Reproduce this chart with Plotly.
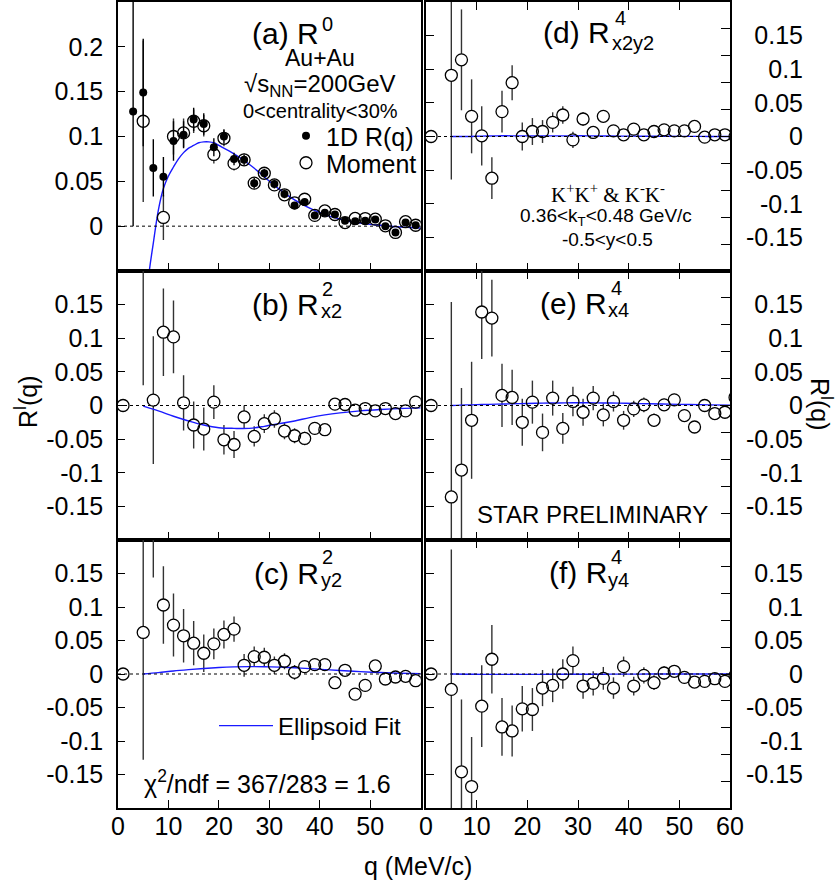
import plotly.graph_objects as go

W, H = 838, 884

# ---------------------------------------------------------------- data
q = [1, 3, 5, 7, 9, 11, 13, 15, 17, 19, 21, 23, 25, 27, 29,
     31, 33, 35, 37, 39, 41, 43, 45, 47, 49, 51, 53, 55, 57, 59]
q_r = q + [61]

# (a) R^0 : moment method (open) and 1D R(q) (filled)
a_mom = [None, None, 0.117, None, 0.0097, 0.100, 0.104, 0.117, 0.112, 0.080,
         0.098, 0.070, 0.074, 0.048, 0.059, 0.046, 0.035, 0.026, 0.030, 0.012,
         0.017, 0.013, 0.004, 0.0086, 0.0085, 0.0078, 0.0004, -0.007, 0.005, 0.001]
a_mom_err = [0, 0, 0.090, 0, 0.025, 0.020, 0.016, 0.013, 0.012, 0.010,
             0.009, 0.008, 0.007, 0.006, 0.006, 0.005, 0.005, 0.005, 0.004, 0.004,
             0.004, 0.004, 0.003, 0.003, 0.003, 0.003, 0.003, 0.003, 0.003, 0.003]
a_1d = [None, 0.128, 0.149, 0.065, 0.055, 0.095, 0.102, 0.119, 0.114, 0.088,
        0.100, 0.075, 0.074, 0.048, 0.059, 0.047, 0.036, 0.023, 0.027, 0.012,
        0.015, 0.013, 0.006, 0.0056, 0.006, 0.0074, 0.0, -0.007, 0.004, 0.001]
a_1d_err = [0, 0.128, 0.060, 0.032, 0.022, 0.022, 0.015, 0.013, 0.012, 0.010,
            0.008, 0.007, 0.006, 0.006, 0.005, 0.005, 0.005, 0.004, 0.004, 0.004,
            0.004, 0.003, 0.003, 0.003, 0.003, 0.003, 0.003, 0.003, 0.003, 0.003]

# (b) R^2_x2
b_val = [0.0, None, 0.26, 0.008, 0.109, 0.102, 0.004, -0.029, -0.035, 0.005,
         -0.051, -0.058, -0.017, -0.046, -0.027, -0.020, -0.038, -0.045, -0.049, -0.034,
         -0.036, 0.002, 0.0015, -0.007, -0.0045, -0.008, -0.0045, -0.012, -0.008, 0.005]
b_err = [0, 0, 0.23, 0.095, 0.065, 0.054, 0.041, 0.035, 0.032, 0.025,
         0.022, 0.020, 0.017, 0.015, 0.014, 0.013, 0.012, 0.011, 0.010, 0.009,
         0.008, 0.008, 0.007, 0.007, 0.006, 0.006, 0.006, 0.005, 0.005, 0.005]

# (c) R^2_y2
c_val = [0.0, None, 0.062, 0.26, 0.103, 0.073, 0.057, 0.046, 0.031, 0.045,
         0.059, 0.067, 0.013, 0.026, 0.025, 0.013, 0.019, 0.0025, 0.011, 0.014,
         0.014, -0.013, 0.0055, -0.030, -0.017, 0.012, -0.0075, -0.0045, -0.0035, -0.010]
c_err = [0, 0, 0.190, 0.116, 0.058, 0.047, 0.040, 0.033, 0.028, 0.023,
         0.021, 0.019, 0.017, 0.015, 0.014, 0.013, 0.012, 0.011, 0.010, 0.009,
         0.008, 0.008, 0.007, 0.007, 0.006, 0.006, 0.006, 0.005, 0.005, 0.005]

# (d) R^4_x2y2
d_val = [0.0, None, 0.091, 0.114, 0.030, 0.001, -0.062, 0.037, 0.080, 0.0,
         0.0074, 0.0074, 0.021, 0.032, -0.005, 0.026, 0.006, 0.030, 0.0084, 0.0025,
         0.011, 0.0025, 0.0074, 0.0099, 0.0084, 0.0084, 0.015, -0.001, 0.0025, 0.0025, 0.0]
d_err = [0, 0, 0.155, 0.075, 0.055, 0.044, 0.031, 0.031, 0.026, 0.021,
         0.020, 0.017, 0.015, 0.013, 0.012, 0.010, 0.009, 0.009, 0.008, 0.007,
         0.007, 0.006, 0.006, 0.005, 0.005, 0.005, 0.005, 0.004, 0.004, 0.004, 0.004]

# (e) R^4_x4
e_val = [0.0, None, -0.136, -0.096, -0.022, 0.139, 0.130, 0.015, 0.012, -0.025,
         0.005, -0.040, 0.011, -0.034, 0.006, -0.010, 0.011, -0.014, 0.006, -0.022,
         -0.005, 0.001, -0.022, 0.001, 0.0084, -0.015, -0.032, 0.0, -0.012, -0.010, 0.012]
e_err = [0, 0, 0.290, 0.122, 0.087, 0.070, 0.057, 0.047, 0.041, 0.035,
         0.032, 0.028, 0.026, 0.023, 0.022, 0.020, 0.018, 0.017, 0.015, 0.014,
         0.012, 0.011, 0.010, 0.009, 0.009, 0.008, 0.008, 0.007, 0.007, 0.007, 0.007]

# (f) R^4_y4
f_val = [0.0, None, -0.023, -0.146, -0.168, -0.048, 0.022, -0.079, -0.085, -0.052,
         -0.053, -0.021, -0.017, 0.0, 0.020, -0.018, -0.014, -0.0065, -0.021, 0.011,
         -0.018, -0.002, -0.013, 0.0015, 0.004, -0.005, -0.012, -0.011, -0.007, -0.011, -0.0025]
f_err = [0, 0, 0.209, 0.108, 0.074, 0.061, 0.051, 0.043, 0.038, 0.034,
         0.032, 0.027, 0.025, 0.022, 0.021, 0.019, 0.018, 0.017, 0.016, 0.015,
         0.014, 0.012, 0.011, 0.010, 0.009, 0.009, 0.008, 0.008, 0.008, 0.008, 0.008]

# ellipsoid fit curves
qa_fit = [5, 6, 7, 8, 9, 10, 11, 12, 13, 14, 15, 16, 17, 18, 19, 20, 22, 24, 26, 28,
          30, 32, 34, 36, 38, 40, 42, 44, 46, 48, 50, 52, 54, 56, 58, 60]
a_fit = [-0.15, -0.06, -0.019, 0.018, 0.042, 0.056, 0.066, 0.075, 0.082, 0.087,
         0.090, 0.093, 0.094, 0.094, 0.093, 0.090, 0.084, 0.077, 0.069, 0.060,
         0.050, 0.041, 0.033, 0.026, 0.020, 0.015, 0.011, 0.008, 0.005, 0.0035,
         0.002, 0.001, 0.0, -0.001, -0.0015, -0.002]
q_fit = [5, 8, 11, 14, 17, 20, 23, 26, 29, 32, 35, 38, 41, 44, 48, 52, 56, 60]
b_fit = [-0.001, -0.008, -0.016, -0.023, -0.029, -0.033, -0.034, -0.034, -0.031, -0.027,
         -0.023, -0.018, -0.014, -0.011, -0.008, -0.006, -0.0045, -0.0035]
c_fit = [0.0, 0.002, 0.0045, 0.0065, 0.0083, 0.0097, 0.0106, 0.011, 0.0108, 0.0102,
         0.0093, 0.008, 0.0066, 0.0052, 0.0035, 0.0022, 0.0012, 0.0005]
d_fit = [0.0, 0.0, 0.0005, 0.001, 0.001, 0.001, 0.001, 0.001, 0.001, 0.001,
         0.0008, 0.0006, 0.0005, 0.0004, 0.0003, 0.0002, 0.0001, 0.0]
e_fit = [0.0, 0.001, 0.0015, 0.002, 0.0025, 0.003, 0.0035, 0.0038, 0.004, 0.004,
         0.0038, 0.0035, 0.003, 0.0025, 0.002, 0.0015, 0.001, 0.0005]
f_fit = [0.0, -0.0003, -0.0005, -0.0005, -0.0005, -0.0005, -0.0005, -0.0004, -0.0004, -0.0003,
         -0.0003, -0.0002, -0.0002, -0.0001, -0.0001, 0.0, 0.0, 0.0]

x_ticks_left = [0, 10, 20, 30, 40, 50]
x_ticks_right = [0, 10, 20, 30, 40, 50, 60]
y_ticks_a = [0, 0.05, 0.1, 0.15, 0.2]
y_ticks = [-0.15, -0.1, -0.05, 0, 0.05, 0.1, 0.15]
y_ticks_outer = [-0.2, -0.15, -0.1, -0.05, 0, 0.05, 0.1, 0.15, 0.2]
y_text_a = ["0", "0.05", "0.1", "0.15", "0.2"]
y_text = ["-0.15", "-0.1", "-0.05", "0", "0.05", "0.1", "0.15"]

# ---------------------------------------------------------------- layout helpers
FONT = "Liberation Sans, Arial, sans-serif"
SERIF = "Liberation Serif, Times New Roman, serif"
BLUE = "#1a1aff"
ERRC = "#333333"
MS_OPEN = 12
MS_FILL = 8


def fx(p):
    return p / W


def fy(p):
    return 1 - p / H


LEFT = [fx(118), fx(420.7)]
RIGHT = [fx(426), fx(730)]
ROWS = [[fy(271), fy(2)], [fy(540), fy(271)], [fy(808), fy(540)]]

fig = go.Figure()


def moment_traces(xs, ys, errs, xa, ya, fit_q=None, fit_v=None, legend_name=None,
                  fit_legend=False):
    # error bars, white disks, fit, then hollow outlines on top
    fig.add_trace(go.Scatter(
        x=xs, y=ys, xaxis=xa, yaxis=ya, mode="markers",
        marker=dict(size=1, color="rgba(0,0,0,0)"),
        error_y=dict(type="data", array=errs, visible=True, color=ERRC,
                     thickness=1.4, width=0),
        showlegend=False, hoverinfo="skip"))
    fig.add_trace(go.Scatter(
        x=xs, y=ys, xaxis=xa, yaxis=ya, mode="markers",
        marker=dict(size=MS_OPEN, color="white", line=dict(width=0)),
        showlegend=False, hoverinfo="skip"))
    if fit_q is not None:
        fig.add_trace(go.Scatter(
            x=fit_q, y=fit_v, xaxis=xa, yaxis=ya, mode="lines",
            line=dict(color=BLUE, width=1.4, shape="spline"),
            name="Ellipsoid Fit", showlegend=fit_legend, legend="legend2"))
    fig.add_trace(go.Scatter(
        x=xs, y=ys, xaxis=xa, yaxis=ya, mode="markers",
        marker=dict(size=MS_OPEN, symbol="circle-open", color="black",
                    line=dict(width=1.3, color="black")),
        name=legend_name or "Moment", showlegend=legend_name is not None,
        legend="legend3"))


# panel (a)
moment_traces(q, a_mom, a_mom_err, "x", "y", qa_fit, a_fit, legend_name="Moment")
fig.add_trace(go.Scatter(
    x=q, y=a_1d, xaxis="x", yaxis="y", mode="markers",
    marker=dict(size=MS_FILL, color="black"),
    error_y=dict(type="data", array=a_1d_err, visible=True, color="black",
                 thickness=1.4, width=0),
    name="1D R(q)", legend="legend"))

# panels (b), (c)
moment_traces(q, b_val, b_err, "x2", "y2", q_fit, b_fit)
moment_traces(q, c_val, c_err, "x3", "y3", q_fit, c_fit, fit_legend=True)
# panels (d), (e), (f)
moment_traces(q_r, d_val, d_err, "x4", "y4", q_fit, d_fit)
moment_traces(q_r, e_val, e_err, "x5", "y5", q_fit, e_fit)
moment_traces(q_r, f_val, f_err, "x6", "y6", q_fit, f_fit)

# empty traces so that the extra right-hand axes are instantiated
for xa, ya in [("x4", "y7"), ("x5", "y8"), ("x6", "y9"),
               ("x4", "y10"), ("x5", "y11"), ("x6", "y12")]:
    fig.add_trace(go.Scatter(x=[], y=[], xaxis=xa, yaxis=ya,
                             showlegend=False, hoverinfo="skip"))

axis_common = dict(showgrid=False, zeroline=False, showline=True, linecolor="black",
                   linewidth=1.5, ticks="inside", tickcolor="black", tickwidth=1.3)
tickfont = dict(family=FONT, size=25, color="black")

layout = dict(
    width=W, height=H,
    margin=dict(l=0, r=0, t=0, b=0, autoexpand=False),
    paper_bgcolor="white", plot_bgcolor="rgba(0,0,0,0)",
    font=dict(family=FONT, color="black"),
    showlegend=True,
)

# x axes
for i, (dom_row, lab) in enumerate(zip(ROWS, [False, False, True]), start=1):
    layout["xaxis" if i == 1 else f"xaxis{i}"] = dict(
        axis_common, domain=LEFT, anchor="y" if i == 1 else f"y{i}", range=[0, 60],
        tickmode="array", tickvals=x_ticks_left, ticklen=8, mirror=True,
        showticklabels=lab, tickfont=tickfont, ticklabelstandoff=-5)
    layout[f"xaxis{i + 3}"] = dict(
        axis_common, domain=RIGHT, anchor=f"y{i + 3}", range=[0, 60],
        tickmode="array", tickvals=x_ticks_right, ticklen=8, mirror="ticks",
        showticklabels=lab, tickfont=tickfont, ticklabelstandoff=-5)

# left y axes
layout["yaxis"] = dict(
    axis_common, domain=ROWS[0], anchor="x", range=[-0.05, 0.25],
    tickmode="array", tickvals=y_ticks_a, ticktext=y_text_a,
    ticklen=7, mirror=True, tickfont=tickfont, ticklabelstandoff=8)
for i in (2, 3):
    layout[f"yaxis{i}"] = dict(
        axis_common, domain=ROWS[i - 1], anchor=f"x{i}", range=[-0.2, 0.2],
        tickmode="array", tickvals=y_ticks, ticktext=y_text,
        ticklen=7, mirror=True, tickfont=tickfont, ticklabelstandoff=8)

# right y axes: main scale (left ticks), outer tick scale (right ticks), labels
for k, i in enumerate((4, 5, 6)):
    layout[f"yaxis{i}"] = dict(
        axis_common, domain=ROWS[k], anchor=f"x{i}", range=[-0.2, 0.2],
        tickmode="array", tickvals=y_ticks, ticklen=8, mirror=True,
        showticklabels=False)
    layout[f"yaxis{i + 3}"] = dict(
        showgrid=False, zeroline=False, showline=False, overlaying=f"y{i}",
        anchor=f"x{i}", side="right", range=[-0.25, 0.25], tickmode="array",
        tickvals=y_ticks_outer, ticks="inside", ticklen=9, tickwidth=1.3,
        tickcolor="black", showticklabels=False)
    layout[f"yaxis{i + 6}"] = dict(
        showgrid=False, zeroline=False, showline=False, overlaying=f"y{i}",
        anchor="free", position=fx(803), side="left", range=[-0.2, 0.2],
        tickmode="array", tickvals=y_ticks, ticktext=y_text,
        ticks="", tickfont=tickfont, ticklabelstandoff=0)

# legends
leg_common = dict(bgcolor="rgba(0,0,0,0)", borderwidth=0, xanchor="left",
                  yanchor="middle", itemclick=False)
layout["legend"] = dict(leg_common, x=fx(286), y=fy(136),
                        font=dict(family=FONT, size=25, color="black"))
layout["legend3"] = dict(leg_common, x=fx(286), y=fy(163),
                         font=dict(family=FONT, size=25, color="black"))
layout["legend2"] = dict(leg_common, x=fx(214), y=fy(726), itemwidth=54,
                         font=dict(family=FONT, size=24, color="black"))

# dashed zero lines
shapes = []
for xa, ya in [("x", "y"), ("x2", "y2"), ("x3", "y3"),
               ("x4", "y4"), ("x5", "y5"), ("x6", "y6")]:
    shapes.append(dict(type="line", xref=f"{xa} domain", yref=ya, x0=0, x1=1, y0=0, y1=0,
                       line=dict(color="black", width=1, dash="3px,3px"), layer="above"))
layout["shapes"] = shapes


def note(text, x, y, size, xanchor="center", family=FONT, angle=0):
    return dict(text=text, x=fx(x), y=fy(y), xref="paper", yref="paper",
                xanchor=xanchor, yanchor="middle", showarrow=False, textangle=angle,
                borderpad=0, borderwidth=0,
                font=dict(family=family, size=size, color="black"))


ann = []
# panel titles, with stacked super/subscripts
MAIN, SCR = 30, 20
ann += [note("(a) R", 319, 34, MAIN, "right"), note("0", 322, 24, SCR, "left")]
ann += [note("(b) R", 319, 304, MAIN, "right"), note("2", 322, 289, SCR, "left"),
        note("x2", 321, 311, SCR, "left")]
ann += [note("(c) R", 319, 573, MAIN, "right"), note("2", 322, 557, SCR, "left"),
        note("y2", 321, 580, SCR, "left")]
ann += [note("(d) R", 610, 33, MAIN, "right"), note("4", 615, 18, SCR, "left"),
        note("x2y2", 612, 43, SCR, "left")]
ann += [note("(e) R", 607, 303, MAIN, "right"), note("4", 611, 288, SCR, "left"),
        note("x4", 608, 310, SCR, "left")]
ann += [note("(f) R", 607, 572, MAIN, "right"), note("4", 611, 557, SCR, "left"),
        note("y4", 608, 580, SCR, "left")]

# collision system and cuts
ann += [note("Au+Au", 320, 58, 23),
        note("√s<sub>NN</sub>=200GeV", 320, 86, 24),
        note("0&lt;centrality&lt;30%", 320, 111, 20)]
ann += [note("K<sup>+</sup>K<sup>+</sup> &amp; K<sup>-</sup>K<sup>-</sup>", 608, 193, 21,
             family=SERIF),
        note("0.36&lt;k<sub>T</sub>&lt;0.48 GeV/c", 606, 217, 19),
        note("-0.5&lt;y&lt;0.5", 607, 240, 19)]
ann += [note("STAR PRELIMINARY", 592, 514, 24)]
ann += [note("χ<sup>2</sup>/ndf = 367/283 = 1.6", 267, 782, 25)]

# axis titles
ann += [note("q (MeV/c)", 418, 866, 25),
        note("R<sup>l</sup>(q)", 26, 402, 25, angle=-90),
        note("R<sup>l</sup>(q)", 821, 404, 25, angle=90)]
layout["annotations"] = ann

fig.update_layout(**layout)
fig.write_html("out.html")
